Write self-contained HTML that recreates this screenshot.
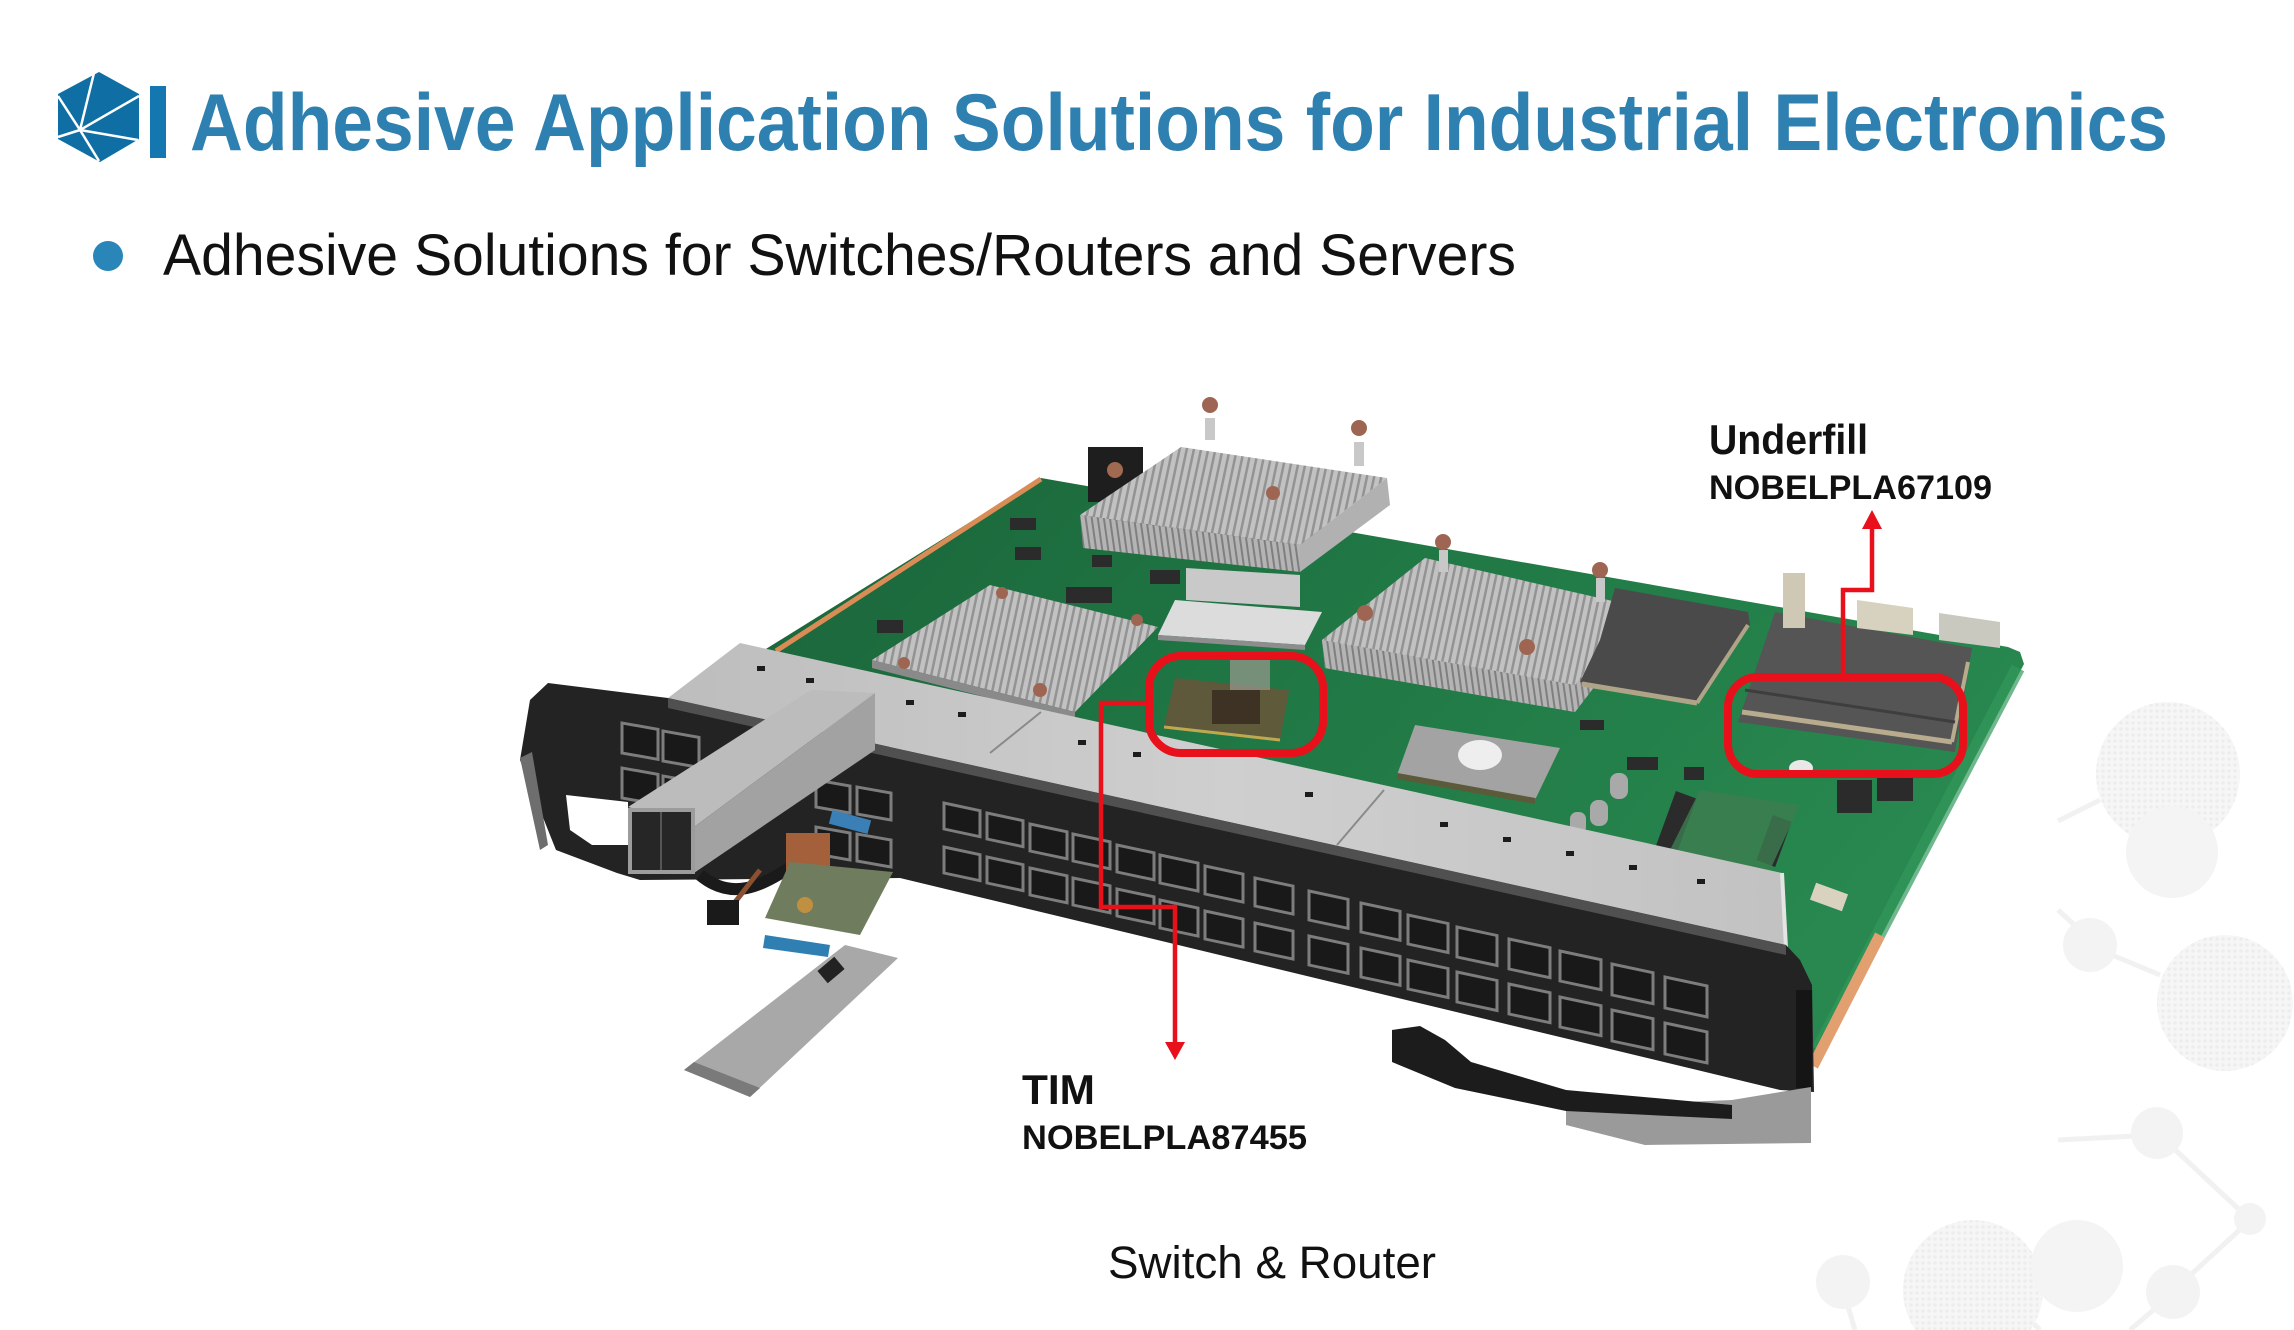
<!DOCTYPE html>
<html><head><meta charset="utf-8"><style>
html,body{margin:0;padding:0;background:#fff;}
svg{display:block;}
</style></head><body>
<svg width="2294" height="1330" viewBox="0 0 2294 1330" xmlns="http://www.w3.org/2000/svg">
<defs>
<linearGradient id="pcb" x1="0" y1="0" x2="1" y2="0.4">
<stop offset="0" stop-color="#1a643a"/>
<stop offset="0.5" stop-color="#207845"/>
<stop offset="1" stop-color="#28884f"/>
</linearGradient>
<pattern id="fins" width="7" height="7" patternUnits="userSpaceOnUse" patternTransform="rotate(12)">
<rect width="7" height="7" fill="#c2c2c2"/>
<rect width="2.5" height="7" fill="#939393"/>
</pattern>
<pattern id="fins2" width="6" height="6" patternUnits="userSpaceOnUse" patternTransform="rotate(-8)">
<rect width="6" height="6" fill="#b4b4b4"/>
<rect width="2" height="6" fill="#7f7f7f"/>
</pattern>
<pattern id="dots" width="6" height="6" patternUnits="userSpaceOnUse">
<rect width="6" height="6" fill="#f6f6f6"/>
<circle cx="3" cy="3" r="1.7" fill="#ededed"/>
</pattern>
<linearGradient id="silver" x1="0" y1="0" x2="1" y2="0">
<stop offset="0" stop-color="#bdbdbd"/>
<stop offset="0.5" stop-color="#cfcfcf"/>
<stop offset="1" stop-color="#c2c2c2"/>
</linearGradient>
</defs>

<g stroke="#f1f1f1" stroke-width="5" fill="none">
<line x1="2058" y1="821" x2="2100" y2="800"/>
<line x1="2058" y1="910" x2="2080" y2="930"/>
<line x1="2100" y1="950" x2="2160" y2="975"/>
<line x1="2058" y1="1140" x2="2135" y2="1136"/>
<line x1="2170" y1="1145" x2="2245" y2="1215"/>
<line x1="2245" y1="1225" x2="2185" y2="1280"/>
<line x1="2165" y1="1300" x2="2130" y2="1330"/>
<line x1="1843" y1="1290" x2="1855" y2="1330"/>
<line x1="2010" y1="1300" x2="2040" y2="1330"/>
</g>
<circle cx="2168" cy="774" r="72" fill="url(#dots)"/>
<circle cx="2172" cy="852" r="46" fill="#f4f4f4"/>
<circle cx="2090" cy="945" r="27" fill="#f3f3f3"/>
<circle cx="2225" cy="1003" r="68" fill="url(#dots)"/>
<circle cx="2157" cy="1133" r="26" fill="#f3f3f3"/>
<circle cx="2250" cy="1219" r="16" fill="#f3f3f3"/>
<circle cx="2173" cy="1292" r="27" fill="#f3f3f3"/>
<circle cx="1973" cy="1290" r="70" fill="url(#dots)"/>
<circle cx="2077" cy="1266" r="46" fill="#f4f4f4"/>
<circle cx="1843" cy="1282" r="27" fill="#f3f3f3"/>

<polygon points="99,72 139,94 139,139 100,162 58,139 58,94" fill="#0f6ea3"/>
<g stroke="#ffffff" stroke-width="2.5" fill="none">
<line x1="80" y1="130" x2="94" y2="73"/>
<line x1="80" y1="130" x2="139" y2="96"/>
<line x1="80" y1="130" x2="138" y2="140"/>
<line x1="80" y1="130" x2="99" y2="161"/>
<line x1="80" y1="130" x2="58" y2="137"/>
<line x1="80" y1="130" x2="58" y2="96"/>
</g>
<rect x="150" y="86" width="16" height="72" fill="#1577b0"/>

<text x="190" y="150" font-family="'Liberation Sans', Arial, sans-serif" font-weight="bold" font-size="81" fill="#2d80b0" textLength="1978" lengthAdjust="spacingAndGlyphs">Adhesive Application Solutions for Industrial Electronics</text>

<circle cx="108" cy="256" r="15" fill="#2a86b8"/>
<text x="163" y="275" font-family="'Liberation Sans', Arial, sans-serif" font-size="58" fill="#111" textLength="1353" lengthAdjust="spacingAndGlyphs">Adhesive Solutions for Switches/Routers and Servers</text>

<polygon points="745,662 1041,478 2008,647 2020,652 2024,664 1812,1068 1796,1000 1000,760" fill="url(#pcb)"/>
<line x1="2018" y1="668" x2="1818" y2="1050" stroke="#33995c" stroke-width="14" opacity="0.7"/>
<line x1="776" y1="651" x2="1041" y2="479" stroke="#d98c55" stroke-width="5"/>
<line x1="1880" y1="935" x2="1813" y2="1066" stroke="#e2a070" stroke-width="11"/>

<g fill="#2b2b2b">
<rect x="1010" y="518" width="26" height="12"/>
<rect x="1015" y="547" width="26" height="13"/>
<rect x="1092" y="555" width="20" height="12"/>
<rect x="1066" y="587" width="46" height="16"/>
<rect x="877" y="620" width="26" height="13"/>
<rect x="1150" y="570" width="30" height="14"/>
<rect x="1627" y="757" width="31" height="13"/>
<rect x="1684" y="767" width="20" height="13"/>
<rect x="1665" y="793" width="22" height="60" transform="rotate(20 1676 823)"/>
<rect x="1764" y="817" width="20" height="48" transform="rotate(20 1774 841)"/>
<rect x="1837" y="780" width="35" height="33"/>
<rect x="1877" y="777" width="36" height="24"/>
<rect x="1580" y="720" width="24" height="10"/>
</g>
<polygon points="1700,790 1800,805 1770,870 1670,850" fill="#3d7d50" opacity="0.8"/>
<g fill="#a9a9a9">
<rect x="1610" y="773" width="18" height="26" rx="8"/>
<rect x="1590" y="800" width="18" height="26" rx="8"/>
<rect x="1570" y="812" width="16" height="22" rx="7"/>
</g>
<ellipse cx="1801" cy="768" rx="12" ry="8" fill="#e8e8e8"/>
<rect x="1812" y="888" width="34" height="18" fill="#d9d2bf" transform="rotate(20 1829 897)"/>

<polygon points="990,585 1158,627 1075,712 872,660" fill="url(#fins)"/>
<polygon points="872,660 1075,712 1075,720 872,668" fill="#8a8a8a"/>

<polygon points="1425,558 1630,605 1630,640 1575,712 1325,668 1322,640" fill="url(#fins)"/>
<polygon points="1322,640 1575,685 1630,612 1630,640 1575,712 1325,668" fill="url(#fins2)"/>

<polygon points="1615,588 1748,612 1750,625 1697,702 1580,682 1600,640" fill="#4a4a4a"/>
<line x1="1582" y1="684" x2="1697" y2="703" stroke="#b0a488" stroke-width="5"/>
<line x1="1697" y1="703" x2="1748" y2="625" stroke="#b0a488" stroke-width="4"/>

<polygon points="1775,612 1972,648 1955,752 1738,722" fill="#555555"/>
<line x1="1742" y1="712" x2="1952" y2="742" stroke="#b8ab8e" stroke-width="5"/>
<line x1="1952" y1="742" x2="1968" y2="662" stroke="#b8ab8e" stroke-width="4"/>
<line x1="1745" y1="690" x2="1955" y2="722" stroke="#3e3e3e" stroke-width="3"/>

<rect x="1783" y="573" width="22" height="55" fill="#cfc8b4"/>
<polygon points="1857,600 1913,608 1913,635 1857,628" fill="#d7d1bf"/>
<polygon points="1939,613 2000,622 2000,648 1939,640" fill="#c9c9c0"/>

<polygon points="1415,725 1560,748 1535,800 1397,775" fill="#a3a3a3"/>
<line x1="1397" y1="776" x2="1535" y2="801" stroke="#5b5a3a" stroke-width="6"/>
<ellipse cx="1480" cy="755" rx="22" ry="15" fill="#eeeeee"/>

<rect x="1088" y="447" width="55" height="55" fill="#1e1e1e"/>
<circle cx="1115" cy="470" r="8" fill="#a06a50"/>

<polygon points="1186,568 1300,575 1300,607 1186,600" fill="#c9c9c9"/>
<polygon points="1175,600 1322,612 1305,645 1158,635" fill="#dcdcdc"/>
<polygon points="1158,635 1305,645 1305,650 1158,640" fill="#8d8d8d"/>

<polygon points="1181,447 1387,478 1300,545 1080,515" fill="url(#fins)"/>
<polygon points="1080,515 1300,545 1300,572 1083,548" fill="url(#fins2)"/>
<polygon points="1300,545 1387,478 1390,505 1300,572" fill="#b1b1b1"/>

<g fill="#9e6652">
<circle cx="1210" cy="405" r="8"/>
<circle cx="1359" cy="428" r="8"/>
<circle cx="1273" cy="493" r="7"/>
<circle cx="1443" cy="542" r="8"/>
<circle cx="1600" cy="570" r="8"/>
<circle cx="1365" cy="613" r="8"/>
<circle cx="1527" cy="647" r="8"/>
<circle cx="1040" cy="690" r="7"/>
<circle cx="1002" cy="593" r="6"/>
<circle cx="904" cy="663" r="6"/>
<circle cx="1137" cy="620" r="6"/>
</g>
<g fill="#c8c8c8">
<rect x="1205" y="418" width="10" height="22"/>
<rect x="1354" y="442" width="10" height="24"/>
<rect x="1439" y="550" width="9" height="22"/>
<rect x="1596" y="578" width="9" height="24"/>
</g>

<polygon points="1175,678 1289,690 1280,740 1164,727" fill="#6a5538" opacity="0.85"/>
<rect x="1212" y="690" width="48" height="34" fill="#3e3224"/>
<rect x="1230" y="658" width="40" height="32" fill="#9a9a90" opacity="0.7"/>
<line x1="1164" y1="727" x2="1280" y2="740" stroke="#c0a850" stroke-width="3"/>

<polygon points="740,643 1782,873 1786,948 668,698" fill="url(#silver)"/>
<g stroke="#8a8a8a" stroke-width="2">
<line x1="1041" y1="712" x2="990" y2="753"/>
<line x1="1384" y1="790" x2="1337" y2="845"/>
</g>
<line x1="1782" y1="873" x2="1786" y2="948" stroke="#e4e4e4" stroke-width="4"/>
<g fill="#1c1c1c">
<rect x="757" y="666" width="8" height="5"/>
<rect x="806" y="678" width="8" height="5"/>
<rect x="906" y="700" width="8" height="5"/>
<rect x="958" y="712" width="8" height="5"/>
<rect x="1078" y="740" width="8" height="5"/>
<rect x="1133" y="752" width="8" height="5"/>
<rect x="1305" y="792" width="8" height="5"/>
<rect x="1440" y="822" width="8" height="5"/>
<rect x="1503" y="837" width="8" height="5"/>
<rect x="1566" y="851" width="8" height="5"/>
<rect x="1629" y="865" width="8" height="5"/>
<rect x="1697" y="879" width="8" height="5"/>
</g>

<polygon points="548,683 668,698 1786,945 1800,960 1812,985 1814,1092 1780,1090 900,878 640,880 617,873 556,850 520,760 530,700" fill="#232323"/>
<polygon points="668,698 1786,945 1786,955 668,708" fill="#505050"/>
<polygon points="520,758 532,752 548,845 540,850" fill="#6e6e6e"/>
<polygon points="566,795 628,802 628,845 592,845 570,830" fill="#ffffff"/>

<g fill="#191919" stroke="#7d7d7d" stroke-width="3">
<g transform="translate(622 723) skewY(10)"><rect width="36" height="30"/></g>
<g transform="translate(663 731) skewY(10)"><rect width="36" height="30"/></g>
<g transform="translate(622 768) skewY(10)"><rect width="36" height="30"/></g>
<g transform="translate(663 776) skewY(10)"><rect width="36" height="30"/></g>
<g transform="translate(816 780) skewY(10)"><rect width="34" height="27"/></g>
<g transform="translate(857 787) skewY(10)"><rect width="34" height="27"/></g>
<g transform="translate(816 827) skewY(10)"><rect width="34" height="27"/></g>
<g transform="translate(857 834) skewY(10)"><rect width="34" height="27"/></g>
<g transform="translate(944 803) skewY(12)"><rect width="36" height="26"/></g>
<g transform="translate(987 813) skewY(12)"><rect width="36" height="26"/></g>
<g transform="translate(1030 824) skewY(12)"><rect width="37" height="27"/></g>
<g transform="translate(1073 834) skewY(12)"><rect width="37" height="27"/></g>
<g transform="translate(1117 845) skewY(12)"><rect width="37" height="27"/></g>
<g transform="translate(1160 855) skewY(12)"><rect width="38" height="28"/></g>
<g transform="translate(1205 866) skewY(12)"><rect width="38" height="28"/></g>
<g transform="translate(1255 878) skewY(12)"><rect width="38" height="28"/></g>
<g transform="translate(1309 891) skewY(12)"><rect width="39" height="29"/></g>
<g transform="translate(1361 903) skewY(12)"><rect width="39" height="29"/></g>
<g transform="translate(1408 915) skewY(12)"><rect width="40" height="29"/></g>
<g transform="translate(1457 927) skewY(12)"><rect width="40" height="30"/></g>
<g transform="translate(1509 939) skewY(12)"><rect width="41" height="30"/></g>
<g transform="translate(1560 951) skewY(12)"><rect width="41" height="30"/></g>
<g transform="translate(1612 964) skewY(12)"><rect width="41" height="31"/></g>
<g transform="translate(1665 977) skewY(12)"><rect width="42" height="31"/></g>
<g transform="translate(944 847) skewY(12)"><rect width="36" height="26"/></g>
<g transform="translate(987 857) skewY(12)"><rect width="36" height="26"/></g>
<g transform="translate(1030 868) skewY(12)"><rect width="37" height="27"/></g>
<g transform="translate(1073 878) skewY(12)"><rect width="37" height="27"/></g>
<g transform="translate(1117 889) skewY(12)"><rect width="37" height="27"/></g>
<g transform="translate(1160 900) skewY(12)"><rect width="38" height="28"/></g>
<g transform="translate(1205 911) skewY(12)"><rect width="38" height="28"/></g>
<g transform="translate(1255 923) skewY(12)"><rect width="38" height="28"/></g>
<g transform="translate(1309 936) skewY(12)"><rect width="39" height="29"/></g>
<g transform="translate(1361 948) skewY(12)"><rect width="39" height="29"/></g>
<g transform="translate(1408 960) skewY(12)"><rect width="40" height="29"/></g>
<g transform="translate(1457 972) skewY(12)"><rect width="40" height="30"/></g>
<g transform="translate(1509 984) skewY(12)"><rect width="41" height="30"/></g>
<g transform="translate(1560 997) skewY(12)"><rect width="41" height="30"/></g>
<g transform="translate(1612 1010) skewY(12)"><rect width="41" height="31"/></g>
<g transform="translate(1665 1023) skewY(12)"><rect width="42" height="31"/></g>
</g>

<rect x="1796" y="990" width="16" height="98" fill="#151515"/>

<polygon points="1566,1107 1732,1100 1811,1087 1811,1143 1645,1145 1566,1125" fill="#9a9a9a"/>
<polygon points="1392,1030 1420,1026 1445,1040 1471,1062 1566,1090 1732,1105 1732,1119 1566,1111 1455,1088 1392,1062" fill="#1c1c1c"/>

<polygon points="628,807 694,827 875,693 811,690" fill="#bcbcbc"/>
<polygon points="694,827 875,693 875,750 694,873" fill="#a2a2a2"/>
<rect x="630" y="810" width="63" height="62" fill="#262626" stroke="#9c9c9c" stroke-width="4"/>
<line x1="661" y1="812" x2="661" y2="870" stroke="#555" stroke-width="2"/>

<path d="M700,875 C730,900 760,890 800,860" stroke="#1a1a1a" stroke-width="12" fill="none"/>
<path d="M760,870 C740,895 735,905 725,910" stroke="#8a5030" stroke-width="5" fill="none"/>
<rect x="786" y="833" width="44" height="38" fill="#a3603a"/>
<rect x="830" y="815" width="40" height="14" fill="#3a7fb5" transform="rotate(15 850 822)"/>
<rect x="707" y="900" width="32" height="25" fill="#1a1a1a"/>
<polygon points="790,862 893,872 860,935 765,918" fill="#6f7d5e"/>
<circle cx="805" cy="905" r="8" fill="#c09040"/>
<polygon points="765,935 830,945 828,957 763,948" fill="#2f7fb3"/>
<polygon points="684,1070 750,1097 898,958 845,945" fill="#a8a8a8"/>
<polygon points="684,1070 750,1097 760,1088 694,1062" fill="#7a7a7a"/>
<rect x="820" y="962" width="22" height="16" fill="#222" transform="rotate(-40 831 970)"/>

<rect x="1149" y="656" width="174" height="97" rx="32" ry="32" fill="none" stroke="#e8101a" stroke-width="8"/>
<rect x="1728" y="677" width="235" height="97" rx="30" ry="30" fill="none" stroke="#e8101a" stroke-width="8"/>
<polyline points="1149,703 1101,703 1101,907 1175,907 1175,1044" fill="none" stroke="#e8101a" stroke-width="4.5"/>
<polygon points="1165,1042 1185,1042 1175,1060" fill="#e8101a"/>
<polyline points="1843,674 1843,590 1872,590 1872,526" fill="none" stroke="#e8101a" stroke-width="4.5"/>
<polygon points="1862,529 1882,529 1872,510" fill="#e8101a"/>

<text x="1709" y="454" font-family="'Liberation Sans', Arial, sans-serif" font-weight="bold" font-size="42" fill="#111" textLength="159" lengthAdjust="spacingAndGlyphs">Underfill</text>
<text x="1709" y="499" font-family="'Liberation Sans', Arial, sans-serif" font-weight="bold" font-size="34" fill="#111" textLength="283" lengthAdjust="spacingAndGlyphs">NOBELPLA67109</text>
<text x="1022" y="1104" font-family="'Liberation Sans', Arial, sans-serif" font-weight="bold" font-size="42" fill="#111" textLength="73" lengthAdjust="spacingAndGlyphs">TIM</text>
<text x="1022" y="1149" font-family="'Liberation Sans', Arial, sans-serif" font-weight="bold" font-size="34" fill="#111" textLength="285" lengthAdjust="spacingAndGlyphs">NOBELPLA87455</text>
<text x="1108" y="1278" font-family="'Liberation Sans', Arial, sans-serif" font-size="45" fill="#111" textLength="328" lengthAdjust="spacingAndGlyphs">Switch &amp; Router</text>
</svg>
</body></html>
